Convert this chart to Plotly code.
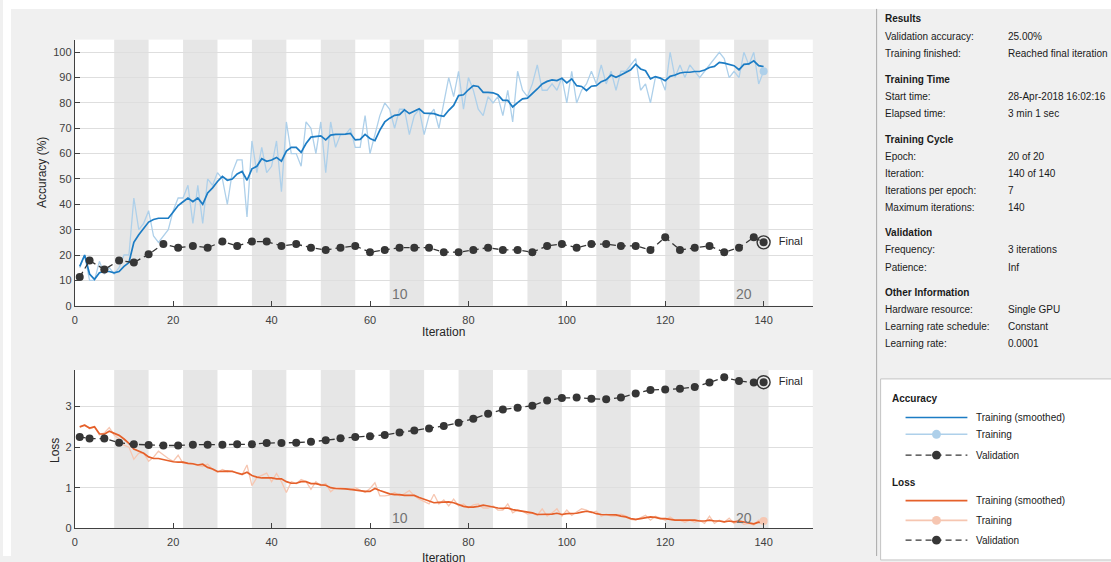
import plotly.graph_objects as go

# ---------------------------------------------------------------- data
iterations = list(range(1, 141))
iters_per_epoch = 7
n_epochs = 20

train_acc = [
    15, 20, 10, 10, 17.5, 12.5, 15, 12.5, 15, 20,
    20, 42.5, 30, 32.5, 37.5, 27.5, 25, 27.5, 30, 37.5,
    42.5, 42.5, 47.5, 32.5, 47.5, 32.5, 50, 47.5, 52.5, 50,
    40, 52.5, 57.5, 57.5, 35, 65, 52.5, 62.5, 52.5, 55,
    65, 45, 72.5, 60, 60, 55, 72.5, 70, 60, 72.5,
    52.5, 72.5, 62.5, 67.5, 67.5, 70, 62.5, 62.5, 75, 60,
    67.5, 75, 80, 77.5, 70, 77.5, 77.5, 67.5, 75, 77.5,
    67.5, 75, 77.5, 70, 80, 90, 82.5, 92.5, 77.5, 90,
    85, 77.5, 75, 82.5, 80, 82.5, 75, 85, 72.5, 92.5,
    85, 82.5, 87.5, 95, 85, 85, 87.5, 85, 90, 80,
    92.5, 80, 85, 87.5, 92.5, 87.5, 95, 87.5, 92.5, 85,
    92.5, 92.5, 95, 97.5, 85, 87.5, 80, 90, 90, 85,
    100, 90, 95, 90, 95, 92.5, 90, 92.5, 95, 97.5,
    100, 97.5, 90, 92.5, 90, 100, 95, 100, 87.5, 92.5,
]

train_acc_smooth = [
    15.5, 20, 12.5, 10.4, 13, 13.5, 13.5, 13, 13.5, 15.5,
    17, 25, 28, 30.5, 33, 34, 34.5, 34.5, 34.5, 37,
    39.5, 41, 42.5, 41, 42.5, 40, 44.5, 46.5, 49, 51,
    49.5, 50, 52, 53, 49.5, 54, 55, 58, 57, 57.5,
    58.5, 57, 61, 62.5, 62.5, 60.5, 64, 66.5, 66.7, 67,
    65.4, 67.3, 67.6, 67.6, 67.7, 68, 65.4, 65.6, 67.6, 66,
    65.1, 69.3, 72.5, 74, 75.1, 75.4, 77.3, 75.8, 76.7, 77.7,
    76, 75.8, 75.8, 75.1, 74.7, 77.1, 79, 82.9, 83.2, 85.2,
    86.8, 86.5, 84.2, 84.2, 84, 83.2, 81, 81, 78.4, 80.1,
    81.6, 81.9, 83.6, 85.5, 87.5, 88.5, 89.1, 88.8, 89.7, 87.9,
    89.5, 86.8, 86.5, 84.9, 86.6, 86.8, 88.4, 89.1, 91, 90.1,
    91, 92.1, 93.1, 95.3, 93.4, 92.7, 89.5, 90.4, 89.8, 88.8,
    90.5, 91, 91.8, 92.1, 92.1, 92.4, 92.4, 93, 94, 94.4,
    96, 95.7, 95.3, 94.7, 93.1, 95.2, 95.4, 96.6, 94.7, 94.3,
]

train_loss = [
    2.5, 2.55, 2.45, 2.5, 2.3, 2.35, 2.48, 2.3, 2.2, 2.05,
    2.0, 1.7, 1.85, 1.85, 1.65, 1.75, 1.9, 1.8, 1.72, 1.65,
    1.8, 1.6, 1.6, 1.58, 1.55, 1.52, 1.58, 1.45, 1.38, 1.45,
    1.4, 1.42, 1.35, 1.32, 1.56, 1.05, 1.25, 1.3, 1.36, 1.15,
    1.35, 1.15, 0.88, 1.15, 1.1, 1.2, 1.15, 0.96, 1.15, 1.05,
    1.1, 0.9, 1.0, 1.0, 0.98, 0.95, 1.0, 0.93, 0.88, 0.98,
    1.12, 0.8, 0.8, 0.82, 0.88, 0.8, 0.85, 0.93, 0.8, 0.72,
    0.65, 0.6, 0.84, 0.6, 0.7, 0.55, 0.72, 0.55, 0.6, 0.5,
    0.58, 0.6, 0.5, 0.5, 0.55, 0.45, 0.45, 0.6, 0.38, 0.45,
    0.42, 0.35, 0.38, 0.32, 0.48, 0.3, 0.38, 0.48, 0.3, 0.45,
    0.32, 0.4, 0.48, 0.45, 0.38, 0.42, 0.3, 0.35, 0.3, 0.3,
    0.35, 0.3, 0.22, 0.2, 0.25, 0.32, 0.2, 0.3, 0.25, 0.2,
    0.28, 0.2, 0.2, 0.15, 0.2, 0.15, 0.2, 0.12, 0.3, 0.12,
    0.2, 0.15, 0.25, 0.12, 0.18, 0.1, 0.12, 0.08, 0.2, 0.18,
]

train_loss_smooth = [
    2.5, 2.54, 2.47, 2.5, 2.33, 2.32, 2.39, 2.33, 2.29, 2.2,
    2.09, 1.95, 1.9, 1.85, 1.76, 1.72, 1.72, 1.69, 1.67, 1.64,
    1.63, 1.63, 1.6, 1.59, 1.56, 1.58, 1.5, 1.46, 1.4, 1.41,
    1.41, 1.4, 1.37, 1.33, 1.38, 1.3, 1.26, 1.24, 1.24, 1.24,
    1.22, 1.22, 1.15, 1.11, 1.11, 1.15, 1.15, 1.1, 1.1, 1.07,
    1.06, 1.0, 0.98, 0.98, 0.97, 0.96, 0.94, 0.93, 0.91, 0.91,
    0.98, 0.93, 0.89, 0.85, 0.83, 0.83, 0.81, 0.81, 0.81, 0.76,
    0.71, 0.67, 0.63, 0.64, 0.65, 0.65, 0.63, 0.59, 0.54, 0.52,
    0.52, 0.54, 0.57, 0.55, 0.52, 0.5, 0.49, 0.5, 0.46, 0.44,
    0.42, 0.41, 0.38, 0.34, 0.34, 0.34, 0.35, 0.37, 0.34, 0.36,
    0.36, 0.37, 0.4, 0.42, 0.4, 0.36, 0.34, 0.34, 0.34, 0.33,
    0.3, 0.28, 0.24, 0.22, 0.24, 0.26, 0.28, 0.27, 0.24, 0.24,
    0.22, 0.2, 0.2, 0.2, 0.2, 0.2, 0.18, 0.18, 0.2, 0.18,
    0.18, 0.16, 0.18, 0.16, 0.18, 0.16, 0.13, 0.11, 0.15, 0.14,
]

val_iters = [1, 3, 6, 9, 12, 15, 18, 21, 24, 27,
             30, 33, 36, 39, 42, 45, 48, 51, 54, 57,
             60, 63, 66, 69, 72, 75, 78, 81, 84, 87,
             90, 93, 96, 99, 102, 105, 108, 111, 114, 117,
             120, 123, 126, 129, 132, 135, 138, 140]

val_acc = [11.3, 17.8, 14.3, 17.8, 17.0, 20.3, 24.3, 22.9, 23.6, 22.9,
           25.3, 23.6, 25.3, 25.3, 23.6, 24.3, 22.9, 22.0, 22.9, 23.6,
           21.1, 22.0, 22.9, 22.9, 22.9, 21.1, 21.1, 22.0, 22.9, 22.0,
           22.0, 21.1, 23.6, 24.3, 22.9, 24.3, 24.3, 23.6, 23.6, 22.0,
           27.0, 22.0, 22.9, 23.6, 21.1, 22.9, 27.0, 25.0]

val_loss = [2.25, 2.21, 2.21, 2.11, 2.07, 2.05, 2.04, 2.04, 2.06, 2.06,
            2.06, 2.07, 2.07, 2.10, 2.10, 2.11, 2.13, 2.17, 2.22, 2.25,
            2.27, 2.30, 2.36, 2.41, 2.46, 2.52, 2.60, 2.70, 2.82, 2.93,
            2.97, 3.02, 3.15, 3.21, 3.22, 3.19, 3.18, 3.22, 3.32, 3.41,
            3.42, 3.44, 3.48, 3.59, 3.72, 3.63, 3.59, 3.60]

x_ticks = [0, 20, 40, 60, 80, 100, 120, 140]
acc_ticks = [0, 10, 20, 30, 40, 50, 60, 70, 80, 90, 100]
loss_ticks = [0, 1, 2, 3]
labelled_epochs = [10, 20]

info_rows = [
    ("Results", None),
    ("Validation accuracy:", "25.00%"),
    ("Training finished:", "Reached final iteration"),
    ("Training Time", None),
    ("Start time:", "28-Apr-2018 16:02:16"),
    ("Elapsed time:", "3 min 1 sec"),
    ("Training Cycle", None),
    ("Epoch:", "20 of 20"),
    ("Iteration:", "140 of 140"),
    ("Iterations per epoch:", "7"),
    ("Maximum iterations:", "140"),
    ("Validation", None),
    ("Frequency:", "3 iterations"),
    ("Patience:", "Inf"),
    ("Other Information", None),
    ("Hardware resource:", "Single GPU"),
    ("Learning rate schedule:", "Constant"),
    ("Learning rate:", "0.0001"),
]
info_y = [19, 37, 54, 80, 97.5, 115, 140.5, 158, 175, 192.5, 210,
          235, 252.5, 270, 295.5, 312.5, 330, 347.5]

# ---------------------------------------------------------------- styling
W, H = 1111, 562
FONT = "Liberation Sans, Arial, sans-serif"
BLUE = "#1c7cc4"
BLUE_LIGHT = "#aed0ea"
ORANGE = "#e5602a"
ORANGE_LIGHT = "#f6c6b1"
VAL = "#363636"
AXIS = "#404040"
GRID = "#dedede"
BAND = "#e6e6e6"
PANEL = "#f0f0f0"


def px(x):
    return x / W


def py(y):
    return 1 - y / H


fig = go.Figure()


def add_panel(xa, ya, raw, smooth, val, raw_col, smooth_col):
    fig.add_trace(go.Scatter(x=iterations, y=raw, mode="lines", xaxis=xa, yaxis=ya,
                             line=dict(color=raw_col, width=1.3), hoverinfo="skip"))
    fig.add_trace(go.Scatter(x=iterations, y=smooth, mode="lines", xaxis=xa, yaxis=ya,
                             line=dict(color=smooth_col, width=1.7), hoverinfo="skip"))
    fig.add_trace(go.Scatter(x=[iterations[-1]], y=[raw[-1]], mode="markers", xaxis=xa, yaxis=ya,
                             marker=dict(color=raw_col, size=8), hoverinfo="skip"))
    fig.add_trace(go.Scatter(x=val_iters, y=val, mode="lines+markers", xaxis=xa, yaxis=ya,
                             line=dict(color=VAL, width=1.3, dash="6px,4px"),
                             marker=dict(color=VAL, size=8), hoverinfo="skip"))
    # final validation point: dot inside a ring
    fig.add_trace(go.Scatter(x=[val_iters[-1]], y=[val[-1]], mode="markers+text", xaxis=xa, yaxis=ya,
                             marker=dict(symbol="circle-open", color=VAL, size=13, line=dict(width=1.4)),
                             text=["  Final"], textposition="middle right",
                             textfont=dict(family=FONT, size=11, color="#262626"),
                             hoverinfo="skip", cliponaxis=False))


add_panel("x", "y", train_acc, train_acc_smooth, val_acc, BLUE_LIGHT, BLUE)
add_panel("x2", "y2", train_loss, train_loss_smooth, val_loss, ORANGE_LIGHT, ORANGE)

shapes = []
annotations = []

# white margins on the left and top of the grey window
shapes.append(dict(type="rect", xref="paper", yref="paper", x0=0, x1=px(8), y0=0, y1=1,
                   fillcolor="white", line=dict(width=0), layer="below"))
shapes.append(dict(type="rect", xref="paper", yref="paper", x0=0, x1=1, y0=py(9), y1=1,
                   fillcolor="white", line=dict(width=0), layer="below"))

# shaded alternate epochs
for ax_x, ax_y in (("x", "y"), ("x2", "y2")):
    for e in range(2, n_epochs + 1, 2):
        shapes.append(dict(type="rect", xref=ax_x, yref=ax_y + " domain",
                           x0=(e - 1) * iters_per_epoch + 1, x1=e * iters_per_epoch + 1,
                           y0=0, y1=1, fillcolor=BAND, line=dict(width=0), layer="below"))
    for e in labelled_epochs:
        annotations.append(dict(x=(e - 1) * iters_per_epoch + 1, y=0.005, xref=ax_x,
                                yref=ax_y + " domain", text=str(e), showarrow=False,
                                xanchor="left", yanchor="bottom",
                                font=dict(family=FONT, size=14, color="#737373")))

# axis titles
annotations += [
    dict(x=px(39), y=py(174), xref="paper", yref="paper", text="Accuracy (%)", textangle=-90,
         xanchor="center", yanchor="middle",
         showarrow=False, font=dict(family=FONT, size=12, color="#262626")),
    dict(x=px(442), y=py(336), xref="paper", yref="paper", text="Iteration",
         xanchor="center", yanchor="middle",
         showarrow=False, font=dict(family=FONT, size=12, color="#262626")),
    dict(x=px(52), y=py(455), xref="paper", yref="paper", text="Loss", textangle=-90,
         xanchor="center", yanchor="middle",
         showarrow=False, font=dict(family=FONT, size=12, color="#262626")),
    dict(x=px(442), y=py(555), xref="paper", yref="paper", text="Iteration",
         xanchor="center", yanchor="top",
         showarrow=False, font=dict(family=FONT, size=12, color="#262626")),
]

# information panel
shapes.append(dict(type="line", xref="paper", yref="paper", x0=px(876), x1=px(876),
                   y0=0, y1=py(9), line=dict(color="#a8a8a8", width=1)))
for (label, value), yy in zip(info_rows, info_y):
    annotations.append(dict(x=px(882), y=py(yy), xref="paper", yref="paper", text=
                            f"<b>{label}</b>" if value is None else label,
                            showarrow=False, xanchor="left", yanchor="middle",
                            font=dict(family=FONT, size=10, color="#1a1a1a")))
    if value is not None:
        annotations.append(dict(x=px(1006), y=py(yy), xref="paper", yref="paper", text=value,
                                showarrow=False, xanchor="left", yanchor="middle",
                                font=dict(family=FONT, size=10, color="#1a1a1a")))

# legend box
shapes.append(dict(type="rect", xref="paper", yref="paper", x0=px(880), x1=px(1116),
                   y0=py(566), y1=py(383), fillcolor="white",
                   line=dict(color="#c4c4c4", width=1)))
legend_groups = [
    ("Accuracy", 403, [("Training (smoothed)", 422, BLUE, "solid", False),
                       ("Training", 439, BLUE_LIGHT, "solid", True),
                       ("Validation", 460, VAL, "dash", True)]),
    ("Loss", 488, [("Training (smoothed)", 506, ORANGE, "solid", False),
                   ("Training", 526, ORANGE_LIGHT, "solid", True),
                   ("Validation", 546, VAL, "dash", True)]),
]
for title, ty, rows in legend_groups:
    annotations.append(dict(x=px(889), y=py(ty), xref="paper", yref="paper", text=f"<b>{title}</b>",
                            showarrow=False, xanchor="left", yanchor="middle",
                            font=dict(family=FONT, size=10, color="#1a1a1a")))
    for name, ry, col, dash, dot in rows:
        shapes.append(dict(type="line", xref="paper", yref="paper", x0=px(905), x1=px(967),
                           y0=py(ry), y1=py(ry),
                           line=dict(color=col, width=1.6 if dash == "solid" else 1.3,
                                     dash="solid" if dash == "solid" else "6px,4px")))
        if dot:
            shapes.append(dict(type="circle", xref="paper", yref="paper",
                               x0=px(931.5), x1=px(940.5), y0=py(ry + 4.5), y1=py(ry - 4.5),
                               fillcolor=col, line=dict(color=col, width=0)))
        annotations.append(dict(x=px(974), y=py(ry), xref="paper", yref="paper", text=name,
                                showarrow=False, xanchor="left", yanchor="middle",
                                font=dict(family=FONT, size=10, color="#1a1a1a")))

axis_common = dict(showline=True, linecolor=AXIS, linewidth=1, ticks="inside", ticklen=5,
                   tickcolor=AXIS, tickfont=dict(family=FONT, size=11, color="#404040"),
                   zeroline=False, fixedrange=True)

fig.update_layout(
    width=W, height=H,
    margin=dict(l=0, r=0, t=0, b=0),
    paper_bgcolor=PANEL,
    plot_bgcolor="white",
    showlegend=False,
    shapes=shapes,
    annotations=annotations,
    xaxis=dict(domain=[px(72), px(812)], range=[0, 150], anchor="y", tickvals=x_ticks,
               showgrid=False, ticklabelstandoff=4, **axis_common),
    yaxis=dict(domain=[py(309), py(40)], range=[0, 105], anchor="x", tickvals=acc_ticks,
               showgrid=True, gridcolor=GRID, gridwidth=1, **axis_common),
    xaxis2=dict(domain=[px(72), px(812)], range=[0, 150], anchor="y2", tickvals=x_ticks,
                showgrid=False, ticklabelstandoff=4, **axis_common),
    yaxis2=dict(domain=[py(534), py(374)], range=[0, 3.9], anchor="x2", tickvals=loss_ticks,
                showgrid=True, gridcolor=GRID, gridwidth=1, **axis_common),
)

fig.write_html("out.html")
